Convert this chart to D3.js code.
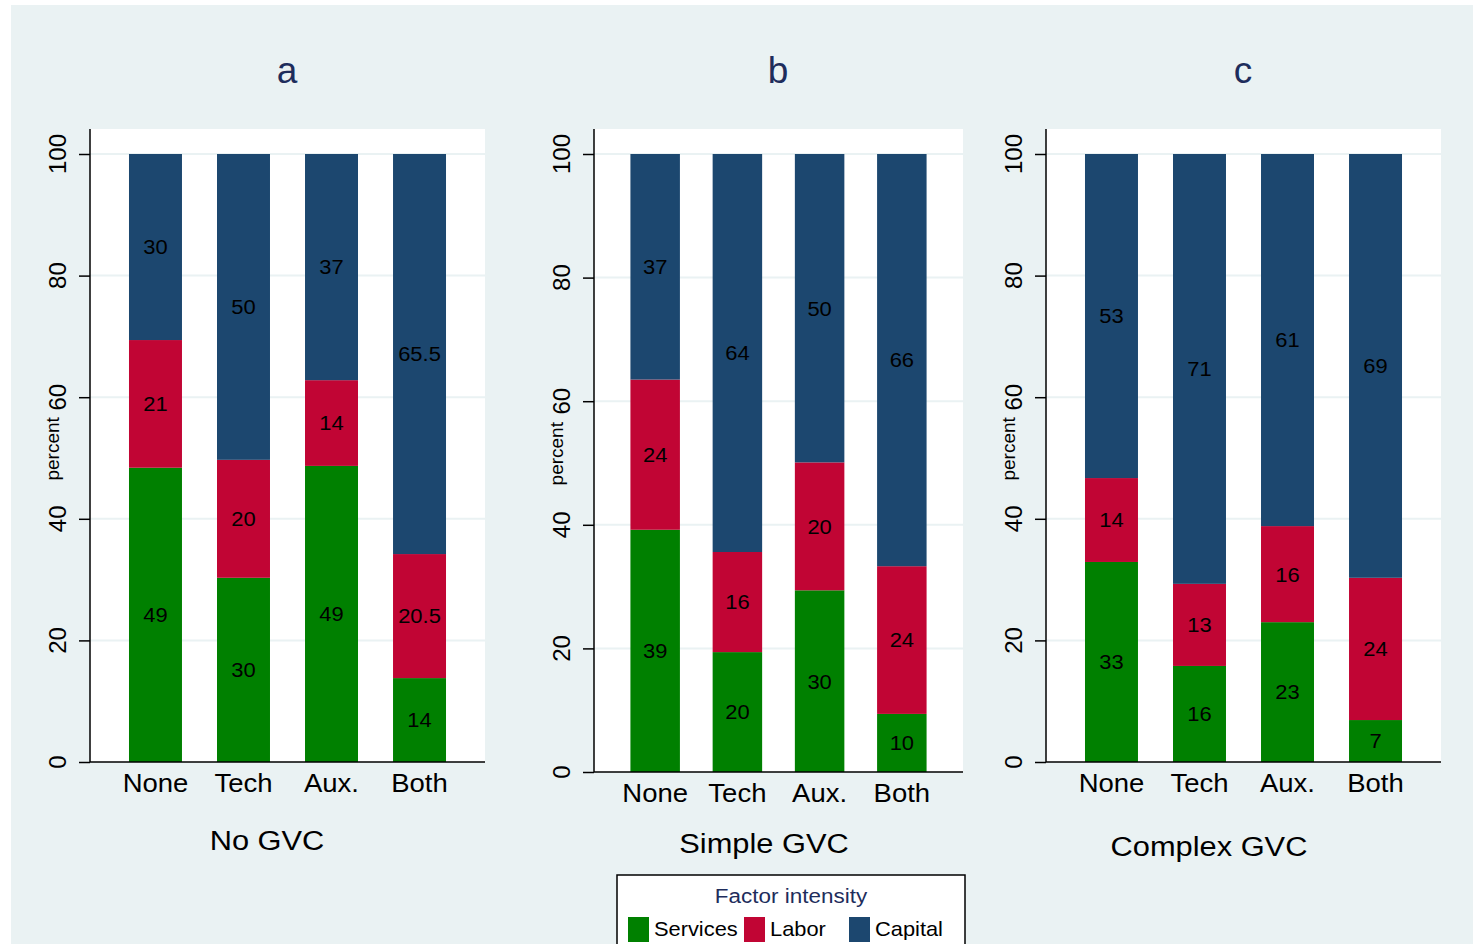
<!DOCTYPE html>
<html>
<head>
<meta charset="utf-8">
<script src="https://cdn.jsdelivr.net/npm/d3@7"></script>
<style>
  body { margin: 0; background: #fff; }
  svg { display: block; font-family: "Liberation Sans", Arial, sans-serif; }
</style>
</head>
<body>
<div id="chart"></div>
<script>
// categories and series
const categories = ["None", "Tech", "Aux.", "Both"];
const factors = ["Services", "Labor", "Capital"];
const panelLetters = ["a", "b", "c"];
const panelNames = ["No GVC", "Simple GVC", "Complex GVC"];
const yTicks = [0, 20, 40, 60, 80, 100];

// bar heights (percent), per panel
const servicesNoGvc = [48.4, 30.3, 48.7, 13.8];
const laborNoGvc = [21.0, 19.4, 14.1, 20.4];
const capitalNoGvc = [30.6, 50.3, 37.2, 65.8];

const servicesSimple = [39.2, 19.4, 29.4, 9.4];
const laborSimple = [24.3, 16.2, 20.7, 23.9];
const capitalSimple = [36.5, 64.4, 49.9, 66.7];

const servicesComplex = [32.9, 15.8, 23.0, 6.9];
const laborComplex = [13.8, 13.5, 15.8, 23.4];
const capitalComplex = [53.3, 70.7, 61.2, 69.7];

// printed bar labels
const servicesLabelsNoGvc = ["49", "30", "49", "14"];
const laborLabelsNoGvc = ["21", "20", "14", "20.5"];
const capitalLabelsNoGvc = ["30", "50", "37", "65.5"];

const servicesLabelsSimple = ["39", "20", "30", "10"];
const laborLabelsSimple = ["24", "16", "20", "24"];
const capitalLabelsSimple = ["37", "64", "50", "66"];

const servicesLabelsComplex = ["33", "16", "23", "7"];
const laborLabelsComplex = ["14", "13", "16", "24"];
const capitalLabelsComplex = ["53", "71", "61", "69"];

const colors = {Services: "#008000", Labor: "#c10534", Capital: "#1c476f"};

const panelValues = [
    [servicesNoGvc, laborNoGvc, capitalNoGvc],
    [servicesSimple, laborSimple, capitalSimple],
    [servicesComplex, laborComplex, capitalComplex]
];
const panelLabels = [
    [servicesLabelsNoGvc, laborLabelsNoGvc, capitalLabelsNoGvc],
    [servicesLabelsSimple, laborLabelsSimple, capitalLabelsSimple],
    [servicesLabelsComplex, laborLabelsComplex, capitalLabelsComplex]
];

// layout of each panel (pixels)
const layout = [
    {x0: 90, x1: 485, top: 129, zero: 762, full: 154, title: 287, titleY: 83, nameX: 267, nameY: 850},
    {x0: 594, x1: 963, top: 129, zero: 772, full: 154, title: 778, titleY: 83, nameX: 764, nameY: 853},
    {x0: 1046, x1: 1441, top: 129, zero: 762, full: 154, title: 1243, titleY: 83, nameX: 1209, nameY: 856}
];

// the reference glyphs are a little wider than Arial
const wide = 1.1, wideSmall = 1.07;
function at(x, y, sx) { return `translate(${x},${y}) scale(${sx},1)`; }

const W = 1473, H = 944;
const svg = d3.select("#chart").append("svg")
    .attr("width", W)
    .attr("height", H);

// graph region background
svg.append("rect")
    .attr("x", 11).attr("y", 5)
    .attr("width", W - 11).attr("height", H - 5)
    .attr("fill", "#eaf2f3");

layout.forEach(function(L, p) {
    let g = svg.append("g");

    let x = d3.scaleBand()
        .domain(categories)
        .range([L.x0, L.x1])
        .paddingInner(0.398)
        .paddingOuter(0.443);
    let y = d3.scaleLinear()
        .domain([0, 100])
        .range([L.zero, L.full]);

    // plot region
    g.append("rect")
        .attr("x", L.x0).attr("y", L.top)
        .attr("width", L.x1 - L.x0).attr("height", L.zero - L.top)
        .attr("fill", "#fff");

    // gridlines
    g.selectAll(".grid")
        .data(yTicks.filter(d => d > 0))
        .enter().append("line")
        .attr("class", "grid")
        .attr("x1", L.x0).attr("x2", L.x1)
        .attr("y1", d => y(d)).attr("y2", d => y(d))
        .attr("stroke", "#eaf2f3")
        .attr("stroke-width", 2);

    // stacked bars
    let rows = categories.map(function(c, i) {
        let r = {cat: c};
        factors.forEach(function(f, k) { r[f] = panelValues[p][k][i]; });
        return r;
    });
    let series = d3.stack().keys(factors)(rows);

    series.forEach(function(s, k) {
        g.selectAll(".bar-" + k)
            .data(s)
            .enter().append("rect")
            .attr("x", d => x(d.data.cat))
            .attr("width", x.bandwidth())
            .attr("y", d => y(d[1]))
            .attr("height", d => y(d[0]) - y(d[1]))
            .attr("fill", colors[s.key]);

        g.selectAll(".lab-" + k)
            .data(s)
            .enter().append("text")
            .attr("transform", d => at(x(d.data.cat) + x.bandwidth() / 2, y((d[0] + d[1]) / 2), wideSmall))
            .attr("dy", "0.36em")
            .attr("text-anchor", "middle")
            .style("font-size", "20.5px")
            .attr("fill", "#000")
            .text((d, i) => panelLabels[p][k][i]);
    });

    // y axis
    let yAxis = d3.axisLeft(y)
        .tickValues(yTicks)
        .tickSize(11)
        .tickFormat(d3.format("d"));
    let ya = g.append("g")
        .attr("transform", `translate(${L.x0},0)`)
        .call(yAxis);
    ya.select(".domain").remove();
    ya.selectAll(".tick line").attr("stroke", "#000").attr("stroke-width", 1.5);
    ya.selectAll(".tick text").remove();
    g.append("line")
        .attr("x1", L.x0).attr("x2", L.x0)
        .attr("y1", L.top).attr("y2", L.zero)
        .attr("stroke", "#000").attr("stroke-width", 1.5);

    g.selectAll(".ytick")
        .data(yTicks)
        .enter().append("text")
        .attr("transform", d => `translate(${L.x0 - 24},${y(d)}) rotate(-90)`)
        .attr("text-anchor", "middle")
        .style("font-size", "24px")
        .attr("fill", "#000")
        .text(d => d);

    g.append("text")
        .attr("transform", `translate(${L.x0 - 31},${L.zero - (L.zero - L.full) * 0.515}) rotate(-90)`)
        .attr("text-anchor", "middle")
        .style("font-size", "19px")
        .attr("fill", "#000")
        .text("percent");

    // x axis
    g.append("line")
        .attr("x1", L.x0).attr("x2", L.x1)
        .attr("y1", L.zero).attr("y2", L.zero)
        .attr("stroke", "#000").attr("stroke-width", 1.5);

    g.selectAll(".xcat")
        .data(categories)
        .enter().append("text")
        .attr("transform", d => at(x(d) + x.bandwidth() / 2, L.zero + 30, wide))
        .attr("text-anchor", "middle")
        .style("font-size", "25px")
        .attr("fill", "#000")
        .text(d => d);

    g.append("text")
        .attr("transform", at(L.nameX, L.nameY, wide))
        .attr("text-anchor", "middle")
        .style("font-size", "28px")
        .attr("fill", "#000")
        .text(panelNames[p]);

    g.append("text")
        .attr("x", L.title).attr("y", L.titleY)
        .attr("text-anchor", "middle")
        .style("font-size", "37px")
        .attr("fill", "#1e2d5c")
        .text(panelLetters[p]);
});

// legend
const lg = svg.append("g");
lg.append("rect")
    .attr("x", 617).attr("y", 875)
    .attr("width", 348).attr("height", 80)
    .attr("fill", "#fff")
    .attr("stroke", "#000")
    .attr("stroke-width", 1.5);
lg.append("text")
    .attr("transform", at(791, 903, wideSmall))
    .attr("text-anchor", "middle")
    .style("font-size", "21px")
    .attr("fill", "#1e2d5c")
    .text("Factor intensity");

const legendX = [628, 744, 849];
factors.forEach(function(f, i) {
    lg.append("rect")
        .attr("x", legendX[i]).attr("y", 917)
        .attr("width", 21).attr("height", 25)
        .attr("fill", colors[f]);
    lg.append("text")
        .attr("transform", at(legendX[i] + 26, 936, 1.04))
        .style("font-size", "21px")
        .attr("fill", "#000")
        .text(f);
});
</script>
</body>
</html>
